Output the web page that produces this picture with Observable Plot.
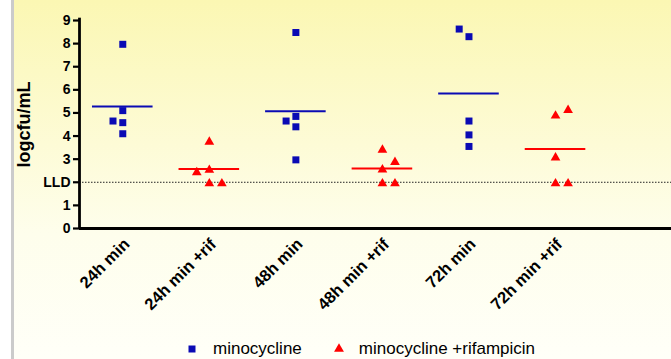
<!DOCTYPE html>
<html>
<head>
<meta charset="utf-8">
<script src="https://cdn.jsdelivr.net/npm/d3@7"></script>
<script src="https://cdn.jsdelivr.net/npm/@observablehq/plot@0.6"></script>
<style>
  html, body { margin: 0; padding: 0; background: #ffffff; width: 671px; height: 359px; overflow: hidden; }
  #page { position: relative; width: 671px; height: 359px; overflow: hidden; font-family: "Liberation Sans", Arial, sans-serif; }
  #bg {
    position: absolute; left: 14px; top: 0; width: 657px; height: 359px;
    background: linear-gradient(to bottom, #fbf7b3 0%, #fdfbd6 40%, #fefeec 65%, #fffff8 100%);
  }
  #edge { position: absolute; left: 11px; top: 0; width: 3px; height: 359px; background: #cbcbcb; }
  #chart { position: absolute; left: 0; top: 0; }
  #chart svg { display: block; }
  #chart g[aria-label="y-axis label"] text { font-size: 18px; }
  #legend {
    position: absolute; top: 339px; left: 185px; display: flex; align-items: center;
    font-size: 17px; color: #000; white-space: nowrap;
  }
  #legend .item { display: flex; align-items: center; }
  #legend svg { display: block; }
</style>
</head>
<body>
<div id="page">
  <div id="bg"></div>
  <div id="edge"></div>
  <div id="chart"></div>
  <div id="legend"></div>
</div>
<script>
// ---- data ----
const categories = ["24h min", "24h min +rif", "48h min", "48h min +rif", "72h min", "72h min +rif"];
const series = ["minocycline", "minocycline +rifampicin"];
const colors = ["#0a0ab4", "#ff0000"];
const yTicks = [0, 1, 2, 3, 4, 5, 6, 7, 8, 9];
const lldValue = 2;
const lldLabel = "LLD";
const yLabel = "logcfu/mL";

const min24h     = [7.97, 5.10, 4.58, 4.65, 4.10];
const minRif24h  = [3.80, 2.58, 2.00, 2.00, 2.48];
const min48h     = [8.48, 4.85, 4.40, 4.65, 2.97];
const minRif48h  = [3.45, 2.60, 2.00, 2.00, 2.92];
const min72h     = [8.30, 8.63, 4.65, 4.05, 3.55];
const minRif72h  = [4.93, 5.17, 3.12, 2.00, 2.00];

const groups = [
  {cat: categories[0], series: series[0], values: min24h},
  {cat: categories[1], series: series[1], values: minRif24h},
  {cat: categories[2], series: series[0], values: min48h},
  {cat: categories[3], series: series[1], values: minRif48h},
  {cat: categories[4], series: series[0], values: min72h},
  {cat: categories[5], series: series[1], values: minRif72h}
];

// simple collision dodge: points that overlap vertically are moved sideways
function dodge(values, minGap, order) {
  const placed = [];
  return values.map(v => {
    for (const slot of order) {
      if (!placed.some(p => p.slot === slot && Math.abs(p.v - v) < minGap)) {
        placed.push({v, slot});
        return slot;
      }
    }
    placed.push({v, slot: 0});
    return 0;
  });
}

const points = [];
const means = [];
groups.forEach((g, i) => {
  const isRif = g.series === series[1];
  const slots = isRif ? dodge(g.values, 0.53, [0, 1, -1]) : dodge(g.values, 0.4, [0, -1, 1]);
  const step = isRif ? 0.145 : 0.113;
  g.values.forEach((v, j) => points.push({cat: g.cat, series: g.series, value: v, x: i + slots[j] * step}));
  means.push({i, series: g.series, mean: d3.mean(g.values)});
});

const chart = Plot.plot({
  width: 671,
  height: 322,
  marginLeft: 79,
  marginRight: 0,
  marginTop: 20,
  marginBottom: 94,
  style: {background: "transparent", fontFamily: "'Liberation Sans', Arial, sans-serif", fontWeight: "bold", color: "#000", overflow: "visible"},
  x: {type: "linear", domain: [-0.5, 6.34]},
  y: {domain: [0, 9]},
  color: {domain: series, range: colors},
  marks: [
    Plot.ruleY([lldValue], {stroke: "#222", strokeWidth: 1, strokeDasharray: "1.5,1.5"}),
    Plot.axisY({ticks: yTicks, tickFormat: d => d === lldValue ? lldLabel : d, tickSize: 6, tickPadding: 3, strokeWidth: 2.2, fontSize: 14,
      label: yLabel, labelAnchor: "center", labelOffset: 62, labelArrow: "none"}),
    Plot.axisX({ticks: d3.range(categories.length), tickFormat: i => categories[i], tickSize: 0, tickPadding: 13, dx: 4, tickRotate: -45, fontSize: 16.5, label: null}),
    Plot.ruleX([-0.5], {y1: 0, y2: 9.1, strokeWidth: 2.8, stroke: "#000"}),
    Plot.ruleY([0], {strokeWidth: 2.8, stroke: "#000"}),
    Plot.ruleY(means, {x1: d => d.i - 0.35, x2: d => d.i + 0.35, y: "mean", stroke: "series", strokeWidth: 2}),
    Plot.dot(points.filter(d => d.series === series[0]), {x: "x", y: "value", fill: "series", symbol: "square", r: 3.95, stroke: "none"}),
    Plot.dot(points.filter(d => d.series === series[1]), {x: "x", y: "value", fill: "series", symbol: "triangle", r: 3.6, dy: 1.2, stroke: "none"})
  ]
});
document.getElementById("chart").appendChild(chart);

// legend
const legend = d3.select("#legend");
series.forEach((s, k) => {
  const item = legend.append("div").attr("class", "item").style("margin-right", k === 0 ? "30px" : "0px");
  const sw = item.append("svg").attr("width", 14).attr("height", 14).style("margin-right", k === 0 ? "14px" : "13px");
  const sym = d3.symbol().type(k === 0 ? d3.symbolSquare : d3.symbolTriangle).size(k === 0 ? 49 : 42);
  sw.append("path").attr("d", sym()).attr("transform", "translate(7,7)").attr("fill", colors[k]);
  item.append("span").text(s);
});
</script>
</body>
</html>
